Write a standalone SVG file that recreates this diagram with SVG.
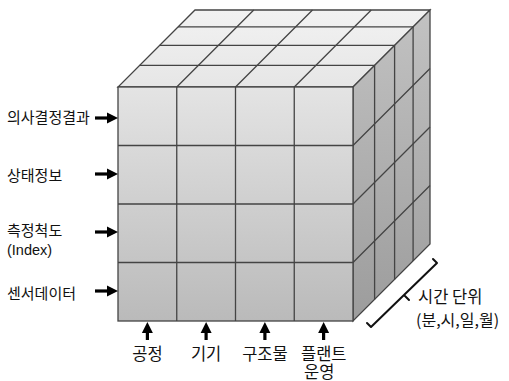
<svg xmlns="http://www.w3.org/2000/svg" width="509" height="381" viewBox="0 0 509 381">
<defs>
<linearGradient id="gFront" x1="0" y1="0" x2="0" y2="1">
<stop offset="0" stop-color="#e4e4e4"/>
<stop offset="1" stop-color="#bababa"/>
</linearGradient>
<linearGradient id="gTop" x1="0" y1="1" x2="0" y2="0">
<stop offset="0" stop-color="#e6e6e6"/>
<stop offset="1" stop-color="#f2f2f2"/>
</linearGradient>
<linearGradient id="gRight" x1="0" y1="0" x2="0" y2="1">
<stop offset="0" stop-color="#c2c2c2"/>
<stop offset="1" stop-color="#9c9c9c"/>
</linearGradient>
<marker id="ah" markerUnits="userSpaceOnUse" markerWidth="12" markerHeight="12" viewBox="0 0 12 12" refX="0" refY="6" orient="auto">
<path d="M0,0.5 L11,6 L0,11.5 Z" fill="#000"/>
</marker>
<style>
.grid{stroke:#444;stroke-width:1.3;fill:none}
.edge{stroke:#444;stroke-width:1.3}
.arr{stroke:#000;stroke-width:3.2;marker-end:url(#ah)}
.lbl{font-family:"Noto Sans CJK KR","Liberation Sans",sans-serif;font-size:15px;fill:#111}
.lbl2{font-family:"Noto Sans CJK KR","Liberation Sans",sans-serif;font-size:16.5px;fill:#111}
.br{stroke:#111;stroke-width:2;fill:none;stroke-linecap:round;stroke-linejoin:round}
</style>
</defs>
<g id="cube">
<polygon points="118,87 353,87 430,10 195,10" fill="url(#gTop)" class="edge"/>
<polygon points="353,87 430,10 430,244 353,321" fill="url(#gRight)" class="edge"/>
<rect x="118" y="87" width="235" height="234" fill="url(#gFront)" class="edge"/>
<g class="grid">
<path d="M118,145.5H353 M118,204H353 M118,262.5H353 M176.75,87V321 M235.5,87V321 M294.25,87V321"/>
<path d="M139.6,65.4H374.6 M159.6,45.4H394.6 M178.1,26.9H413.1"/>
<path d="M176.75,87L253.75,10 M235.5,87L312.5,10 M294.25,87L371.25,10"/>
<path d="M374.6,65.4V299.4 M394.6,45.4V279.4 M413.1,26.9V260.9"/>
<path d="M353,145.5L430,68.5 M353,204L430,127 M353,262.5L430,185.5"/>
</g>
</g>
<g id="connectors">
<line class="arr" x1="95" y1="118" x2="107" y2="118"/>
<line class="arr" x1="95" y1="174" x2="107" y2="174"/>
<line class="arr" x1="95" y1="232" x2="107" y2="232"/>
<line class="arr" x1="95" y1="291" x2="107" y2="291"/>
<line class="arr" x1="147.4" y1="340" x2="147.4" y2="333"/>
<line class="arr" x1="206.1" y1="340" x2="206.1" y2="333"/>
<line class="arr" x1="264.9" y1="340" x2="264.9" y2="333"/>
<line class="arr" x1="323.6" y1="340" x2="323.6" y2="333"/>
</g>
<g id="bracket">
<path class="br" d="M367,323 L371,327 L437,263 L433,259 M404,295 L409,300"/>
</g>
<g id="label-decision"><text class="lbl" x="7" y="123">의사결정결과</text></g>
<g id="label-state"><text class="lbl" x="7" y="181">상태정보</text></g>
<g id="label-measure"><text class="lbl" x="7" y="236">측정척도</text><text class="lbl" x="7" y="255" style="font-family:'Liberation Sans',sans-serif;font-size:14.5px">(Index)</text></g>
<g id="label-sensor"><text class="lbl" x="7" y="299">센서데이터</text></g>
<g id="label-process"><text class="lbl2" x="147.4" y="360" text-anchor="middle">공정</text></g>
<g id="label-device"><text class="lbl2" x="206.1" y="360" text-anchor="middle">기기</text></g>
<g id="label-structure"><text class="lbl2" x="264.9" y="360" text-anchor="middle">구조물</text></g>
<g id="label-plant"><text class="lbl2" x="301" y="360">플랜트</text><text class="lbl2" x="304" y="377.5">운영</text></g>
<g id="label-time"><text class="lbl2" x="418" y="303">시간 단위</text><text class="lbl2" x="416" y="326" style="font-size:16px">(분,시,일,월)</text></g>
</svg>
